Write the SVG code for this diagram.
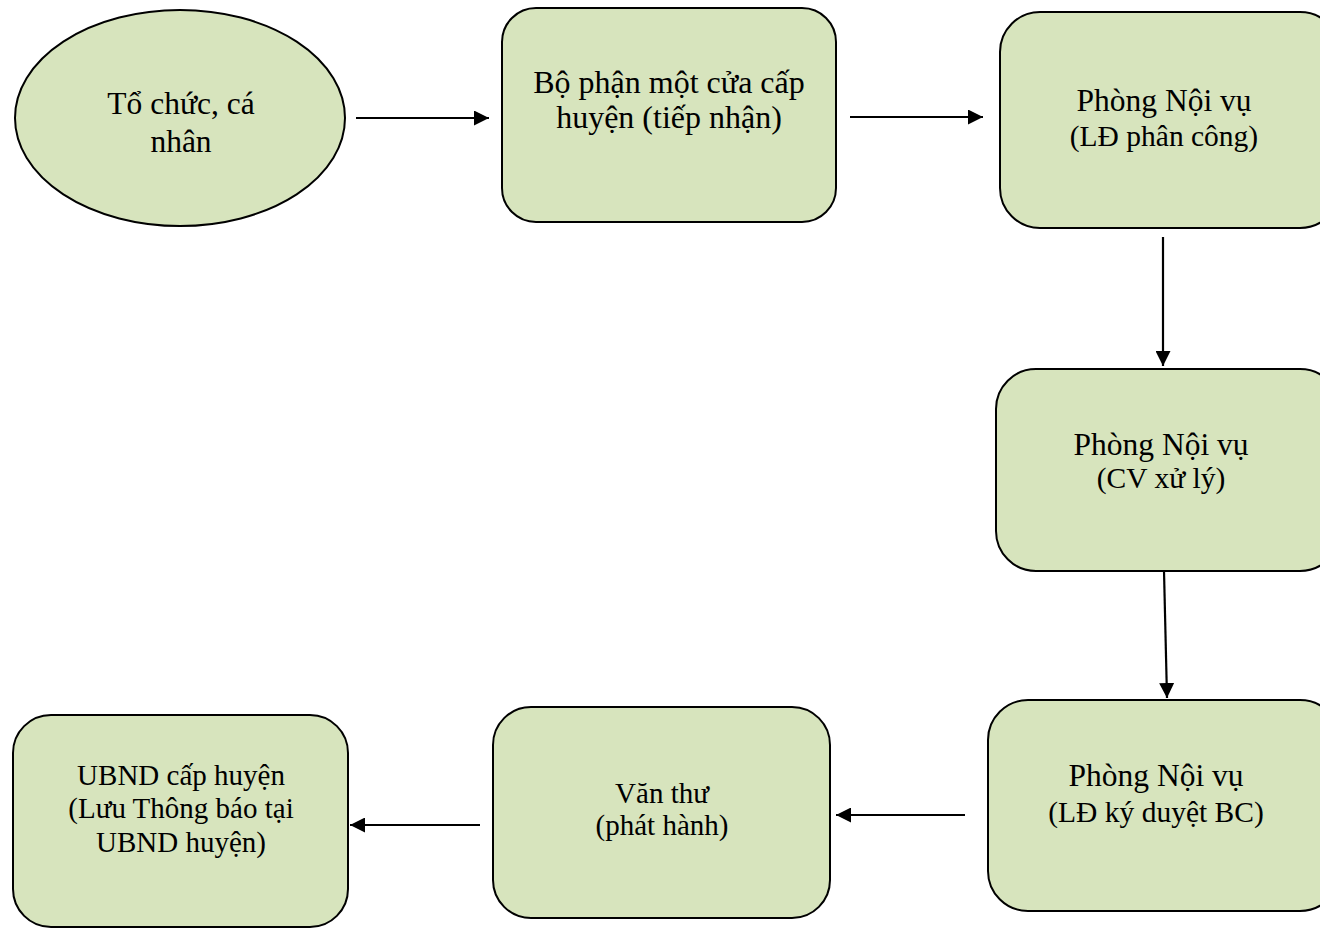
<svg xmlns="http://www.w3.org/2000/svg" width="1320" height="928" viewBox="0 0 1320 928">
<style>
.node{fill:#d7e4bd;stroke:#000;stroke-width:2}
.t{font-family:"Liberation Serif","Times New Roman",serif;fill:#000;text-anchor:middle}
.l1{font-size:31.5px}
.l2{font-size:29.5px}
.l3{font-size:29px}
.conn line{stroke:#000;stroke-width:2.2}
</style>
<defs>
<marker id="ah" viewBox="0 0 15 15" refX="15" refY="7.5" markerWidth="15" markerHeight="15" markerUnits="userSpaceOnUse" orient="auto">
<path d="M0,0 L15,7.5 L0,15 Z" fill="#000"/>
</marker>
</defs>
<rect width="1320" height="928" fill="#fff"/>
<g id="n1">
<ellipse class="node" cx="180" cy="118" rx="165" ry="108"/>
<text class="t l1" x="181" y="114">Tổ chức, cá</text>
<text class="t l1" x="181" y="152">nhân</text>
</g>
<g id="n2">
<rect class="node" x="502" y="8" width="334" height="214" rx="34"/>
<text class="t l1" x="669" y="93" style="font-size:32px">Bộ phận một cửa cấp</text>
<text class="t l1" x="669" y="128" style="font-size:32px">huyện (tiếp nhận)</text>
</g>
<g id="n3">
<rect class="node" x="1000" y="12" width="340" height="216" rx="40"/>
<text class="t l1" x="1164" y="111">Phòng Nội vụ</text>
<text class="t l2" x="1164" y="146">(LĐ phân công)</text>
</g>
<g id="n4">
<rect class="node" x="996" y="369" width="344" height="202" rx="40"/>
<text class="t l1" x="1161" y="455">Phòng Nội vụ</text>
<text class="t l2" x="1161" y="488">(CV xử lý)</text>
</g>
<g id="n5">
<rect class="node" x="988" y="700" width="352" height="211" rx="40"/>
<text class="t l1" x="1156" y="786">Phòng Nội vụ</text>
<text class="t l2" x="1156" y="822">(LĐ ký duyệt BC)</text>
</g>
<g id="n6">
<rect class="node" x="493" y="707" width="337" height="211" rx="38"/>
<text class="t l3" x="662" y="803">Văn thư</text>
<text class="t l3" x="662" y="835">(phát hành)</text>
</g>
<g id="n7">
<rect class="node" x="13" y="715" width="335" height="212" rx="38"/>
<text class="t l3" x="181" y="785">UBND cấp huyện</text>
<text class="t l3" x="181" y="818">(Lưu Thông báo tại</text>
<text class="t l3" x="181" y="852">UBND huyện)</text>
</g>
<g id="connectors" class="conn">
<line x1="356" y1="118" x2="489" y2="118" marker-end="url(#ah)"/>
<line x1="850" y1="117" x2="983" y2="117" marker-end="url(#ah)"/>
<line x1="1163" y1="237" x2="1163" y2="366" marker-end="url(#ah)"/>
<line x1="1164" y1="571" x2="1167" y2="698" marker-end="url(#ah)"/>
<line x1="965" y1="815" x2="836" y2="815" marker-end="url(#ah)"/>
<line x1="480" y1="825" x2="350" y2="825" marker-end="url(#ah)"/>
</g>
</svg>
